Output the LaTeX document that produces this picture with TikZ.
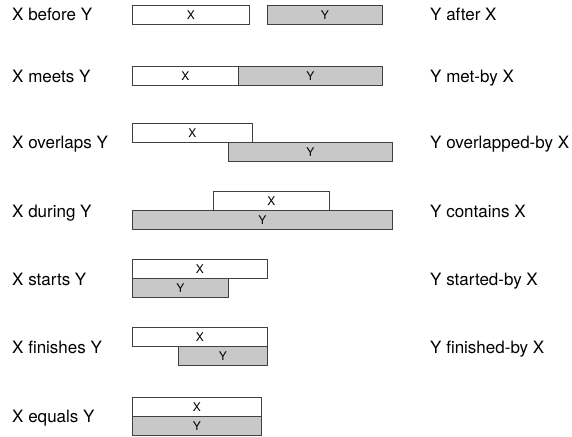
\documentclass[tikz,border=0pt]{standalone}
\usepackage{fontspec}
\setmainfont{TeX Gyre Heros}
\usetikzlibrary{positioning}
\newcommand{\BOXHEIGHT}{19}
\newcommand{\LEFTCOL}{12}
\newcommand{\RIGHTCOL}{430}
\definecolor{ygray}{RGB}{200,200,200}
\definecolor{edgegray}{RGB}{64,64,64}
\tikzset{
  interval/.style={draw=edgegray, line width=0.8pt, minimum height=\BOXHEIGHT pt, inner sep=0pt, anchor=north west, font=\fontsize{12}{12}\selectfont},
  xbox/.style={interval, fill=white},
  ybox/.style={interval, fill=ygray},
  relation/.style={inner sep=0pt, anchor=base west, font=\fontsize{17}{19}\selectfont},
}

\begin{document}
\begin{tikzpicture}[x=1pt, y=-1pt]
  \useasboundingbox (0,0) rectangle (572,436);

  % the seven relations, X interval on top, Y interval below
  \foreach \i/\rel/\base/\xl/\xr/\xt/\yl/\yr/\yt in {
      1/before/20.5/132/249/5/267/382/5,
      2/meets/82/132/238/66/238/382/66,
      3/overlaps/148.5/132/252/123/228/392/142,
      4/during/217/213/329/191/132/392/210,
      5/starts/285/132/267/259/132/228/278,
      6/finishes/353/132/267/327/178/267/346,
      7/equals/422/132/261/397/132/261/416
    } {
      \pgfmathsetmacro{\xw}{\xr - \xl}
      \pgfmathsetmacro{\yw}{\yr - \yl}
      \node[relation] (left\i) at (\LEFTCOL, \base) {X \rel\ Y};
      \node[xbox, minimum width=\xw pt] (x\i) at (\xl, \xt) {X};
      \node[ybox, minimum width=\yw pt] (y\i) at (\yl, \yt) {Y};
    }

  % inverse relations
  \foreach \i/\inv/\base in {
      1/after/20.5, 2/met-by/82, 3/overlapped-by/148.5,
      4/contains/217, 5/started-by/285, 6/finished-by/353
    } {
      \node[relation] (right\i) at (\RIGHTCOL, \base) {Y \inv\ X};
    }
\end{tikzpicture}
\end{document}
